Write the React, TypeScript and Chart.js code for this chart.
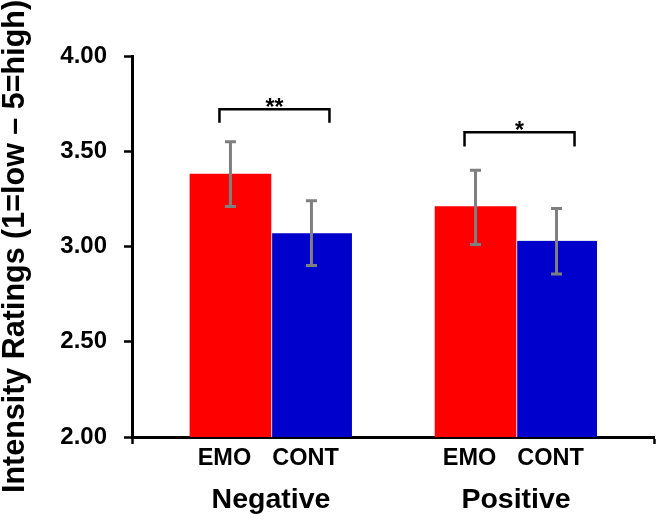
import React, { useEffect, useRef } from 'react';
import { Chart, registerables } from 'chart.js';

Chart.register(...registerables);

// ---- data ----
const categories = ['Negative', 'Positive'];
const conditions = ['EMO', 'CONT'];
const emoMeans = [3.38, 3.21];
const contMeans = [3.07, 3.03];
const emoErrLow = [3.21, 3.01];
const emoErrHigh = [3.55, 3.40];
const contErrLow = [2.9, 2.855];
const contErrHigh = [3.24, 3.2];
const sigMarks = ['**', '*'];
const bracketTops = [3.72, 3.6];
const bracketFeet = [3.65, 3.525];
const yMin = 2;
const yMax = 4;
const yStep = 0.5;
const xMin = 0.433;
const xMax = 2.563;

const FONT = "'Liberation Sans', Arial, Helvetica, sans-serif";

const annotPlugin = {
  id: 'annot',
  afterDatasetsDraw(chart: any) {
    const ctx = chart.ctx;
    const ys = chart.scales.y;
    const errs = [
      [emoErrLow, emoErrHigh],
      [contErrLow, contErrHigh],
    ];
    ctx.save();
    // error bars
    ctx.strokeStyle = '#7f7f7f';
    ctx.lineWidth = 3;
    errs.forEach(([lo, hi], di) => {
      chart.getDatasetMeta(di).data.forEach((bar: any, j: number) => {
        const x = bar.x;
        const y1 = ys.getPixelForValue(lo[j]);
        const y2 = ys.getPixelForValue(hi[j]);
        ctx.beginPath();
        ctx.moveTo(x, y1);
        ctx.lineTo(x, y2);
        ctx.moveTo(x - 5.5, y1);
        ctx.lineTo(x + 5.5, y1);
        ctx.moveTo(x - 5.5, y2);
        ctx.lineTo(x + 5.5, y2);
        ctx.stroke();
      });
    });
    // significance brackets
    const emoMeta = chart.getDatasetMeta(0).data;
    const contMeta = chart.getDatasetMeta(1).data;
    ctx.strokeStyle = '#000';
    ctx.lineWidth = 2.5;
    ctx.lineJoin = 'miter';
    categories.forEach((_, j) => {
      const xl = emoMeta[j].x - 11;
      const xr = contMeta[j].x + 18;
      const yt = ys.getPixelForValue(bracketTops[j]);
      const yf = ys.getPixelForValue(bracketFeet[j]);
      ctx.beginPath();
      ctx.moveTo(xl, yf);
      ctx.lineTo(xl, yt);
      ctx.lineTo(xr, yt);
      ctx.lineTo(xr, yf);
      ctx.stroke();
      ctx.fillStyle = '#000';
      ctx.font = `bold 23px ${FONT}`;
      ctx.textAlign = 'center';
      ctx.textBaseline = 'alphabetic';
      ctx.fillText(sigMarks[j], (xl + xr) / 2, yt + 6);
    });
    ctx.restore();
  },
  afterDraw(chart: any) {
    const ctx = chart.ctx;
    const bottom = chart.chartArea.bottom;
    ctx.save();
    ctx.fillStyle = '#000';
    ctx.font = `bold 23.5px ${FONT}`;
    ctx.textAlign = 'center';
    ctx.textBaseline = 'alphabetic';
    [0, 1].forEach((di) => {
      chart.getDatasetMeta(di).data.forEach((bar: any) => {
        ctx.fillText(conditions[di], bar.x - 6, bottom + 27.5);
      });
    });
    ctx.restore();
  },
};

export default function App() {
  const ref = useRef<HTMLCanvasElement | null>(null);

  useEffect(() => {
    if (!ref.current) return;
    const chart = new Chart(ref.current, {
      type: 'bar',
      data: {
        datasets: [
          {
            label: conditions[0],
            data: emoMeans.map((v, i) => ({ x: i + 1, y: v })),
            backgroundColor: '#ff0000',
            barThickness: 81,
            borderWidth: 0,
          },
          {
            label: conditions[1],
            data: contMeans.map((v, i) => ({ x: i + 1, y: v })),
            backgroundColor: '#0000cc',
            borderColor: '#ffffff',
            borderWidth: { left: 1.5, top: 0, right: 0, bottom: 0 },
            borderSkipped: false,
            barThickness: 81,
          },
        ] as any,
      },
      options: {
        animation: false,
        responsive: true,
        maintainAspectRatio: false,
        layout: { padding: { left: 0, right: 7, top: 56, bottom: 0 } },
        plugins: {
          legend: { display: false },
          tooltip: { enabled: false },
        },
        scales: {
          x: {
            type: 'linear',
            min: xMin,
            max: xMax,
            offset: false,
            afterBuildTicks: (scale: any) => {
              scale.ticks = [xMin, 1, 2, xMax].map((v) => ({ value: v }));
            },
            afterFit: (scale: any) => {
              scale.height = 84;
              scale.paddingLeft = 0;
              scale.paddingRight = 0;
            },
            grid: {
              offset: false,
              drawOnChartArea: false,
              drawTicks: true,
              tickLength: 7,
              tickWidth: 2.5,
              tickColor: (ctx: any) =>
                ctx.tick && (ctx.tick.value === xMin || ctx.tick.value === xMax)
                  ? '#000'
                  : 'rgba(0,0,0,0)',
            },
            border: { display: true, color: '#000', width: 3 },
            ticks: {
              autoSkip: false,
              maxRotation: 0,
              padding: 39,
              color: '#000',
              font: { family: FONT, size: 28.5, weight: 'bold' },
              callback: (v: any) =>
                Number.isInteger(v) ? categories[v - 1] ?? '' : '',
            },
          },
          y: {
            type: 'linear',
            min: yMin,
            max: yMax,
            afterFit: (scale: any) => {
              scale.width = 132;
            },
            grid: {
              drawOnChartArea: false,
              drawTicks: true,
              tickLength: 8,
              tickWidth: 2.5,
              tickColor: '#000',
            },
            border: { display: true, color: '#000', width: 3 },
            ticks: {
              stepSize: yStep,
              padding: 17,
              color: '#000',
              font: { family: FONT, size: 24, weight: 'bold' },
              callback: (v: any) => Number(v).toFixed(2),
            },
            title: {
              display: true,
              text: 'Intensity Ratings (1=low \u2013 5=high)',
              color: '#000',
              padding: 0,
              font: { family: FONT, size: 30.5, weight: 'bold', lineHeight: 1.05 },
            },
          },
        },
      } as any,
      plugins: [annotPlugin],
    });
    return () => chart.destroy();
  }, []);

  return (
    <div
      style={{
        position: 'absolute',
        left: 0,
        top: 0,
        width: 661,
        height: 521,
        background: '#fff',
      }}
    >
      <canvas ref={ref} />
    </div>
  );
}
